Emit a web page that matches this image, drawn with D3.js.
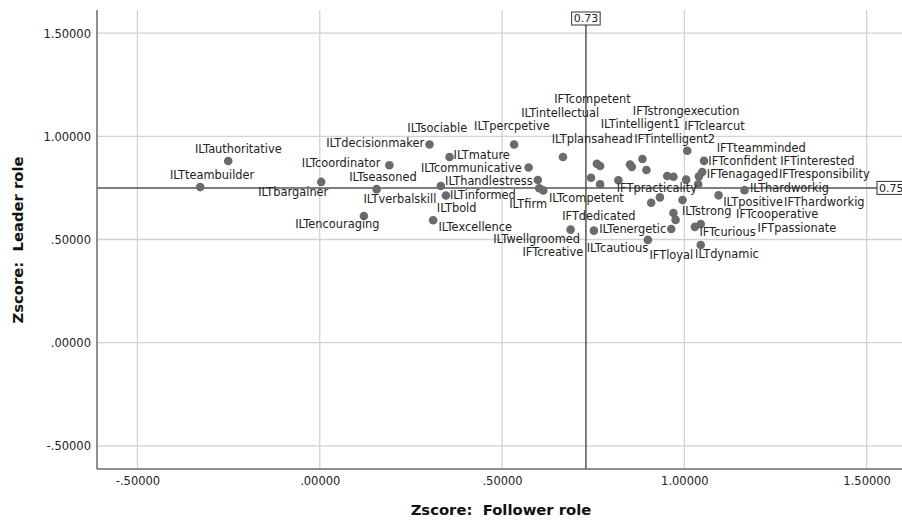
<!DOCTYPE html>
<html>
<head>
<meta charset="utf-8">
<script src="https://cdn.jsdelivr.net/npm/d3@7"></script>
<style>
  body { margin: 0; background: #fff; }
  svg { display: block; }
  text { font-family: "DejaVu Sans", sans-serif; white-space: pre; }
</style>
</head>
<body>
<svg id="chart" width="902" height="521"></svg>
<script>
// Trait items: implicit leadership (ILT) and followership (IFT) z-scores
const labels = [
  "ILTteambuilder", "ILTauthoritative", "ILTbargainer", "ILTcoordinator", "ILTseasoned",
  "ILTencouraging", "ILTdecisionmaker", "ILTpercpetive", "ILTmature", "ILTplansahead",
  "ILTcommunicative", "ILThandlestress", "ILTverbalskill", "ILTfirm", "ILTcompetent",
  "ILTinformed", "ILTexcellence", "ILTwellgroomed",
  "ILTenergetic", "IFTcompetent", "ILTintellectual", "ILTsociable", "ILTbold",
  "IFTpracticality", "ILTintelligent1", "", "IFTstrongexecution", "IFTintelligent2",
  "IFTdedicated", "", "", "IFTcreative", "IFTclearcut", "IFTteamminded",
  "IFTconfident", "IFTinterested", "IFTenagaged", "IFTresponsibility", "ILTstrong",
  "IFTcooperative", "IFTcurious", "ILTcautious", "IFTloyal", "IFTpassionate",
  "IFThardworkig", "ILTdynamic", "ILTpositive", "ILThardworkig"
];

const followerZ = [
  -0.328, -0.251, 0.004, 0.191, 0.156, 0.121, 0.301, 0.533, 0.356, 0.667,
  0.573, 0.598, 0.332, 0.602, 0.613, 0.346, 0.311, 0.688,
  0.752, 0.760, 0.769, 0.744, 0.769, 0.819, 0.851, 0.856, 0.885, 0.896,
  0.953, 0.970, 0.933, 0.909, 1.005, 1.008, 1.054, 1.049, 1.040, 1.038,
  0.995, 0.970, 0.976, 0.964, 0.900, 1.029, 1.045, 1.045, 1.094, 1.165
];

const leaderZ = [
  0.754, 0.880, 0.779, 0.860, 0.744, 0.614, 0.960, 0.960, 0.900, 0.900,
  0.849, 0.788, 0.759, 0.748, 0.738, 0.713, 0.593, 0.548,
  0.543, 0.867, 0.856, 0.799, 0.767, 0.787, 0.863, 0.852, 0.890, 0.837,
  0.808, 0.804, 0.704, 0.678, 0.790, 0.930, 0.881, 0.827, 0.806, 0.768,
  0.691, 0.628, 0.595, 0.551, 0.498, 0.561, 0.575, 0.473, 0.714, 0.739
];

const xTicks = [-0.5, 0, 0.5, 1.0, 1.5];
const yTicks = [-0.5, 0, 0.5, 1.0, 1.5];
const refFollower = 0.73;
const refLeader = 0.75;

const xTitle = "Zscore:  Follower role";
const yTitle = "Zscore:  Leader role";

// Label placement: pixel offset of each label's start/baseline from its marker
const labelOffsets = {
  ILTteambuilder: [-30.3, -8], ILTauthoritative: [-33.3, -8.3], ILTbargainer: [-63, 13.7],
  ILTcoordinator: [-87.6, 2], ILTseasoned: [-27.4, -8.3], ILTencouraging: [-68.7, 12.3],
  ILTdecisionmaker: [-103.3, 2.8], ILTpercpetive: [-40, -14.5], ILTmature: [4, 2],
  ILTplansahead: [-11.3, -14.3], ILTcommunicative: [-107.7, 4.2], ILThandlestress: [-92.7, 5],
  ILTverbalskill: [-77.4, 17], ILTfirm: [-30, 20], ILTcompetent: [5.7, 11.4],
  ILTinformed: [4, 3.5], ILTexcellence: [5.3, 10.4], ILTwellgroomed: [-77.4, 13.6],
  ILTenergetic: [5.3, 2], IFTcompetent: [-42.7, -61.1], ILTintellectual: [-79, -49.3],
  ILTsociable: [-183.7, -45.4], ILTbold: [-163.3, 27.4], IFTpracticality: [-1.6, 12],
  ILTintelligent1: [-29.3, -36.2], IFTstrongexecution: [-9.6, -44], IFTintelligent2: [-12.3, -27.3],
  IFTdedicated: [-105, 44], IFTcreative: [-128.7, 53.3], IFTclearcut: [-2, -49.7],
  IFTteamminded: [29.4, 0.8], IFTconfident: [4.3, 4.2], IFTinterested: [78, -7.0],
  IFTenagaged: [7.7, 2], IFTresponsibility: [80.7, -5.9], ILTstrong: [-0.6, 15],
  IFTcooperative: [62.7, 5.3], IFTcurious: [23.8, 15.7], ILTcautious: [-84.5, 23.5],
  IFTloyal: [1.6, 19.3], IFTpassionate: [62.7, 5.3], IFThardworkig: [83.3, -18.5],
  ILTdynamic: [-5.7, 12.7], ILTpositive: [4.6, 10.2], ILThardworkig: [5.5, 2.1]
};

const points = labels.map((name, i) => ({ name, fx: followerZ[i], ly: leaderZ[i] }));

const svg = d3.select("#chart");
const W = 902, H = 521;
const plot = { left: 97, right: 902, top: 10, bottom: 469 };

const x = d3.scaleLinear().domain([-0.611, 1.597]).range([plot.left, plot.right]);
const y = d3.scaleLinear().domain([-0.612, 1.612]).range([plot.bottom, plot.top]);

// SPSS-style number format: five decimals, no leading zero, plain hyphen
const fmt = v => d3.format(".5f")(v).replace("\u2212", "-").replace(/^(-?)0\./, "$1.");

svg.append("rect").attr("width", W).attr("height", H).attr("fill", "#fff");

// Grid
const grid = svg.append("g").attr("stroke", "#d2d2d2").attr("stroke-width", 1.3);
grid.selectAll("line.v").data(xTicks).join("line")
  .attr("x1", d => x(d)).attr("x2", d => x(d))
  .attr("y1", plot.top).attr("y2", plot.bottom);
grid.selectAll("line.h").data(yTicks).join("line")
  .attr("x1", plot.left).attr("x2", plot.right)
  .attr("y1", d => y(d)).attr("y2", d => y(d));

// Reference lines
const refG = svg.append("g").attr("stroke", "#555").attr("stroke-width", 1.5);
refG.append("line")
  .attr("x1", x(refFollower)).attr("x2", x(refFollower))
  .attr("y1", 25).attr("y2", plot.bottom);
refG.append("line")
  .attr("x1", plot.left).attr("x2", 877)
  .attr("y1", y(refLeader)).attr("y2", y(refLeader));

// Axes
const xAxis = svg.append("g")
  .attr("transform", `translate(0,${plot.bottom})`)
  .call(d3.axisBottom(x).tickValues(xTicks).tickFormat(fmt).tickSize(0).tickPadding(8));
const yAxis = svg.append("g")
  .attr("transform", `translate(${plot.left},0)`)
  .call(d3.axisLeft(y).tickValues(yTicks).tickFormat(fmt).tickSize(0).tickPadding(6));
[xAxis, yAxis].forEach(g => {
  g.select(".domain").remove();
  g.selectAll("text")
    .attr("font-family", "'DejaVu Sans', sans-serif")
    .attr("font-size", "11.5px")
    .attr("fill", "#222");
});
yAxis.selectAll("text").attr("dy", "0.35em");

svg.append("line")
  .attr("x1", plot.left).attr("x2", plot.left)
  .attr("y1", plot.top).attr("y2", plot.bottom)
  .attr("stroke", "#6a6a6a").attr("stroke-width", 1.5);
svg.append("line")
  .attr("x1", plot.left).attr("x2", plot.right)
  .attr("y1", plot.bottom).attr("y2", plot.bottom)
  .attr("stroke", "#6a6a6a").attr("stroke-width", 1.5);

// Markers
svg.append("g").selectAll("circle").data(points).join("circle")
  .attr("cx", d => x(d.fx))
  .attr("cy", d => y(d.ly))
  .attr("r", 4.3)
  .attr("fill", "#6b6b6b");

// Point labels
svg.append("g").selectAll("text").data(points.filter(d => d.name)).join("text")
  .attr("x", d => x(d.fx) + labelOffsets[d.name][0])
  .attr("y", d => y(d.ly) + labelOffsets[d.name][1])
  .attr("font-size", "11.4px")
  .attr("fill", "#222")
  .text(d => d.name);

// Reference value tags
function refTag(cx, cy, text, anchor) {
  const g = svg.append("g");
  const t = g.append("text")
    .attr("x", cx).attr("y", cy)
    .attr("font-size", "11px")
    .attr("fill", "#222")
    .attr("text-anchor", anchor)
    .attr("dy", "0.35em")
    .text(text);
  const b = t.node().getBBox();
  g.insert("rect", "text")
    .attr("x", b.x - 2).attr("y", cy - 6.5)
    .attr("width", b.width + 4).attr("height", 13)
    .attr("fill", "#fff").attr("stroke", "#333").attr("stroke-width", 1);
}
refTag(x(refFollower), 18.5, d3.format(".2f")(refFollower), "middle");
refTag(879, y(refLeader), d3.format(".2f")(refLeader), "start");

// Axis titles
svg.append("text")
  .attr("x", 501).attr("y", 515)
  .attr("text-anchor", "middle")
  .attr("font-size", "14.8px").attr("font-weight", "bold").attr("fill", "#111")
  .text(xTitle);
svg.append("text")
  .attr("transform", "translate(18,240) rotate(-90)")
  .attr("text-anchor", "middle").attr("dy", "0.35em")
  .attr("font-size", "14.8px").attr("font-weight", "bold").attr("fill", "#111")
  .text(yTitle);
</script>
</body>
</html>
